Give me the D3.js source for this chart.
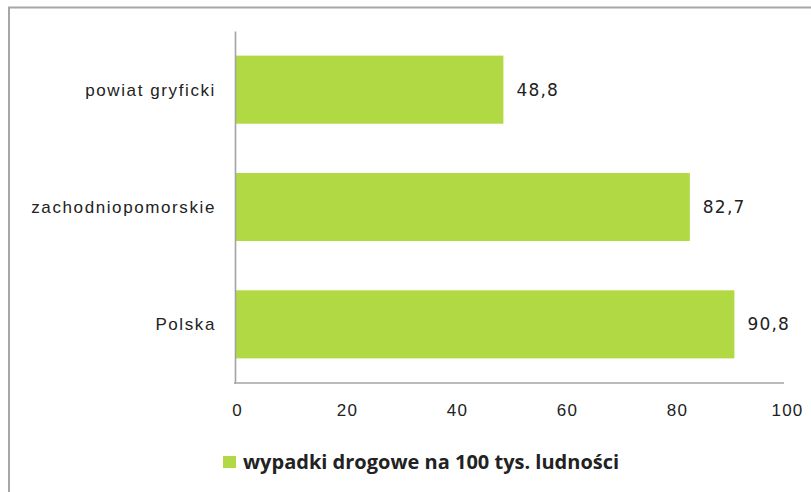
<!doctype html>
<html>
<head>
<meta charset="utf-8">
<style>
  body { margin: 0; background: white; }
  svg { display: block; font-family: "DejaVu Sans", sans-serif; }
  .axis path { stroke: #a3a3a3; stroke-width: 1.6px; }
  .axis text { fill: #222; font-size: 17px; letter-spacing: 1.6px; }
  .axis.x text { letter-spacing: 1.2px; }
  .val { fill: #222; font-size: 17px; letter-spacing: 1.2px; }
  .bar { fill: #b0d943; }
</style>
<script src="https://d3js.org/d3.v7.min.js"></script>
</head>
<body>
<svg width="811" height="492"></svg>
<script>
// data
var categories = ["powiat gryficki", "zachodniopomorskie", "Polska"];
var values = [48.8, 82.7, 90.8];
var xTicks = [0, 20, 40, 60, 80, 100];
var seriesName = "wypadki drogowe na 100 tys. ludności";

var svg = d3.select("svg");

// outer frame (runs off the right / bottom edge like the original crop)
svg.append("rect")
  .attr("x", 9).attr("y", 7.5)
  .attr("width", 900).attr("height", 600)
  .attr("fill", "none")
  .attr("stroke", "#a6a6a6")
  .attr("stroke-width", 2);

var x = d3.scaleLinear().domain([0, 100]).range([235, 785]);
var y = d3.scaleBand().domain(categories).range([31, 383])
  .paddingInner(0.42).paddingOuter(0.21);

svg.selectAll("rect.bar")
  .data(values)
  .enter().append("rect")
  .attr("class", "bar")
  .attr("x", x(0))
  .attr("y", function (d, i) { return y(categories[i]); })
  .attr("width", function (d) { return x(d) - x(0); })
  .attr("height", y.bandwidth());

// value labels
svg.selectAll("text.val")
  .data(values)
  .enter().append("text")
  .attr("class", "val")
  .attr("x", function (d) { return x(d) + 13; })
  .attr("y", function (d, i) { return y(categories[i]) + y.bandwidth() / 2; })
  .attr("dy", "0.35em")
  .text(function (d) { return d3.format(".1f")(d).replace(".", ","); });

// bottom axis: only labels + baseline
var xAxis = svg.append("g").attr("class", "axis x")
  .attr("transform", "translate(0,383)")
  .call(d3.axisBottom(x).tickValues(xTicks).tickSize(0).tickSizeOuter(0).tickPadding(27));
xAxis.selectAll("text").attr("dy", "0.35em").attr("dx", 2);
xAxis.select(".domain").attr("d", "M" + (x(0) - 1) + ",0H" + (x(100) - 1));

// left axis
var yAxis = svg.append("g").attr("class", "axis")
  .attr("transform", "translate(235,0)")
  .call(d3.axisLeft(y).tickSize(0).tickSizeOuter(0).tickPadding(19));
yAxis.selectAll("text").attr("dy", "0.35em");

// legend
svg.append("rect")
  .attr("x", 223).attr("y", 456)
  .attr("width", 13).attr("height", 12)
  .attr("class", "bar");
svg.append("text")
  .attr("x", 243).attr("y", 462)
  .attr("dy", "0.35em")
  .attr("fill", "#222")
  .attr("font-family", "'Open Sans', sans-serif")
  .attr("font-weight", "bold")
  .attr("font-size", 20)
  .text(seriesName);
</script>
</body>
</html>
